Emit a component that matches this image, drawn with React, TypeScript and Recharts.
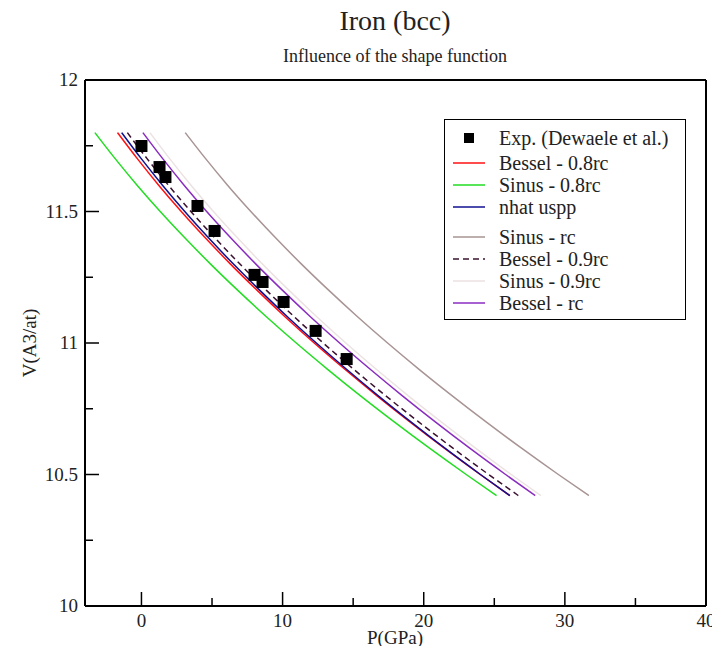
import { ComposedChart, Line, Scatter, XAxis, YAxis } from "recharts";

// volumes (A3/at) at which the computed curves were read
const volumes = [11.8, 11.7, 11.6, 11.5, 11.4, 11.3, 11.2, 11.1, 11.0, 10.9, 10.8, 10.7, 10.6, 10.5, 10.42];

// pressure (GPa) of each calculation at those volumes
const besselP08 = [-1.7, -0.28, 1.22, 2.82, 4.52, 6.31, 8.2, 10.17, 12.24, 14.41, 16.67, 19.02, 21.46, 24.0, 26.1];
const sinusP08 = [-3.3, -1.85, -0.31, 1.33, 3.07, 4.9, 6.83, 8.85, 10.97, 13.19, 15.5, 17.91, 20.41, 23.01, 25.16];
const nhatUspp = [-1.4, 0.0, 1.49, 3.07, 4.75, 6.52, 8.39, 10.34, 12.39, 14.53, 16.76, 19.09, 21.5, 24.02, 26.1];
const sinusRc = [3.1, 4.56, 6.1, 7.75, 9.5, 11.34, 13.28, 15.31, 17.44, 19.67, 22.0, 24.42, 26.93, 29.54, 31.7];
const besselP09 = [-1.0, 0.41, 1.91, 3.5, 5.2, 6.98, 8.86, 10.82, 12.88, 15.04, 17.29, 19.64, 22.07, 24.6, 26.7];
const sinusP09 = [0.6, 2.01, 3.51, 5.1, 6.8, 8.58, 10.46, 12.42, 14.48, 16.64, 18.89, 21.24, 23.67, 26.2, 28.3];
const besselRc = [0.1, 1.52, 3.02, 4.62, 6.32, 8.11, 10.0, 11.97, 14.04, 16.21, 18.47, 20.82, 23.26, 25.8, 27.9];

// Dewaele et al. experiment
const expP = [0, 1.28, 1.7, 3.97, 5.18, 8.01, 8.58, 10.07, 12.34, 14.54];
const expV = [11.749, 11.669, 11.631, 11.521, 11.426, 11.259, 11.232, 11.156, 11.046, 10.939];

const xTicks = [0, 5, 10, 15, 20, 25, 30, 35, 40];
const yTicks = [10, 10.25, 10.5, 10.75, 11, 11.25, 11.5, 11.75, 12];

const series = [
  { name: "Bessel - 0.8rc", color: "#ff1010", values: besselP08 },
  { name: "Sinus - 0.8rc", color: "#22dd22", values: sinusP08 },
  { name: "nhat uspp", color: "#101090", values: nhatUspp },
  { name: "Sinus - rc", color: "#a89494", values: sinusRc },
  { name: "Bessel - 0.9rc", color: "#3a1230", values: besselP09, dash: "6 4" },
  { name: "Sinus - 0.9rc", color: "#ece2e2", values: sinusP09 },
  { name: "Bessel - rc", color: "#8a2cc0", values: besselRc },
];

const expData = expP.map((p, i) => ({ p, v: expV[i] }));

const font = "Times New Roman, Liberation Serif, DejaVu Serif, serif";
const MAJOR = 14;
const MINOR = 8;

const isMajorX = (v: number) => v % 10 === 0;
const isMajorY = (v: number) => Math.abs(v * 2 - Math.round(v * 2)) < 1e-6;

const BottomTick = (props: any) => {
  const { x, y, payload } = props;
  const major = isMajorX(payload.value);
  return (
    <g>
      <line x1={x} x2={x} y1={y} y2={y - (major ? MAJOR : MINOR)} stroke="#000" strokeWidth={1.5} />
      {major && (
        <text x={x} y={y + 21} textAnchor="middle" fontSize={19} fontFamily={font} fill="#222">
          {payload.value}
        </text>
      )}
    </g>
  );
};

const TopTick = (props: any) => {
  const { x, y, payload } = props;
  const major = isMajorX(payload.value);
  return <line x1={x} x2={x} y1={y} y2={y + (major ? MAJOR : MINOR)} stroke="#000" strokeWidth={1.5} />;
};

const LeftTick = (props: any) => {
  const { x, y, payload } = props;
  const major = isMajorY(payload.value);
  return (
    <g>
      <line x1={x} x2={x + (major ? MAJOR : MINOR)} y1={y} y2={y} stroke="#000" strokeWidth={1.5} />
      {major && (
        <text x={x - 7} y={y + 6} textAnchor="end" fontSize={19} fontFamily={font} fill="#222">
          {payload.value}
        </text>
      )}
    </g>
  );
};

const RightTick = (props: any) => {
  const { x, y, payload } = props;
  const major = isMajorY(payload.value);
  return <line x1={x} x2={x - (major ? MAJOR : MINOR)} y1={y} y2={y} stroke="#000" strokeWidth={1.5} />;
};

const ExpSquare = (props: any) => {
  const { cx, cy } = props;
  return <rect x={cx - 6} y={cy - 6} width={12} height={12} fill="#000" />;
};

const legendRows = [
  { name: "Exp. (Dewaele et al.)", top: 18, square: true },
  { name: series[0].name, top: 43, color: series[0].color },
  { name: series[1].name, top: 65, color: series[1].color },
  { name: series[2].name, top: 87, color: series[2].color },
  { name: series[3].name, top: 117, color: series[3].color },
  { name: series[4].name, top: 139, color: series[4].color, dash: true },
  { name: series[5].name, top: 161, color: series[5].color },
  { name: series[6].name, top: 183, color: series[6].color },
];

function LegendBox() {
  return (
    <div
      style={{
        position: "absolute",
        left: 436,
        top: 111,
        width: 240,
        height: 199,
        border: "1.5px solid #000",
        background: "#fff",
        fontFamily: font,
        fontSize: 20,
        color: "#222",
      }}
    >
      {legendRows.map((r) => (
        <div key={r.name} style={{ position: "absolute", left: 0, top: r.top - 11, height: 22, width: 240 }}>
          <svg width={50} height={22} style={{ position: "absolute", left: 0, top: 0 }}>
            {r.square ? (
              <rect x={19} y={6} width={10} height={10} fill="#000" />
            ) : (
              <line x1={8} x2={40} y1={11} y2={11} stroke={r.color} strokeWidth={1.5} strokeDasharray={r.dash ? "6 4" : undefined} />
            )}
          </svg>
          <span style={{ position: "absolute", left: 54, top: 0, lineHeight: "22px", whiteSpace: "nowrap" }}>{r.name}</span>
        </div>
      ))}
    </div>
  );
}

export default function App() {
  return (
    <div style={{ position: "relative", width: 712, height: 638, background: "#fff" }}>
      <style>{"html{overflow:hidden} .recharts-wrapper, .recharts-surface{overflow:visible !important}"}</style>
      <div style={{ position: "absolute", left: 187, width: 400, top: -3, textAlign: "center", fontFamily: font, fontSize: 28, color: "#222" }}>
        Iron (bcc)
      </div>
      <div style={{ position: "absolute", left: 137, width: 500, top: 38, textAlign: "center", fontFamily: font, fontSize: 18, color: "#222" }}>
        Influence of the shape function
      </div>
      <ComposedChart width={712} height={638} margin={{ top: 71, right: 13, bottom: 0, left: 17 }}>
        <XAxis
          xAxisId="b"
          type="number"
          dataKey="p"
          domain={[-4, 40]}
          ticks={xTicks}
          interval={0}
          height={40}
          tickLine={false}
          tickSize={0}
          tickMargin={0}
          tick={BottomTick}
          axisLine={{ stroke: "#000", strokeWidth: 2 }}
        />
        <XAxis
          xAxisId="t"
          orientation="top"
          type="number"
          domain={[-4, 40]}
          ticks={xTicks}
          interval={0}
          height={1}
          tickLine={false}
          tickSize={0}
          tickMargin={0}
          tick={TopTick}
          axisLine={{ stroke: "#000", strokeWidth: 2 }}
        />
        <YAxis
          yAxisId="l"
          type="number"
          dataKey="v"
          domain={[10, 12]}
          ticks={yTicks}
          interval={0}
          width={60}
          tickLine={false}
          tickSize={0}
          tickMargin={0}
          tick={LeftTick}
          axisLine={{ stroke: "#000", strokeWidth: 2 }}
        />
        <YAxis
          yAxisId="r"
          orientation="right"
          type="number"
          domain={[10, 12]}
          ticks={yTicks}
          interval={0}
          width={1}
          tickLine={false}
          tickSize={0}
          tickMargin={0}
          tick={RightTick}
          axisLine={{ stroke: "#000", strokeWidth: 2 }}
        />
        {series.map((s) => (
          <Line
            key={s.name}
            xAxisId="b"
            yAxisId="l"
            data={volumes.map((v, i) => ({ p: s.values[i], v }))}
            dataKey="v"
            type="monotone"
            stroke={s.color}
            strokeWidth={1.5}
            strokeDasharray={s.dash}
            dot={false}
            activeDot={false}
            isAnimationActive={false}
          />
        ))}
        <Scatter xAxisId="b" yAxisId="l" data={expData} dataKey="v" shape={ExpSquare} isAnimationActive={false} />
      </ComposedChart>
      <div style={{ position: "absolute", left: 287, width: 200, top: 620, lineHeight: 1, textAlign: "center", fontFamily: font, fontSize: 19, color: "#222" }}>
        P(GPa)
      </div>
      <div
        style={{
          position: "absolute",
          left: 22,
          top: 335,
          transform: "translate(-50%, -50%) rotate(-90deg)",
          fontFamily: font,
          fontSize: 19,
          color: "#222",
          whiteSpace: "nowrap",
        }}
      >
        V(A3/at)
      </div>
      <LegendBox />
    </div>
  );
}
